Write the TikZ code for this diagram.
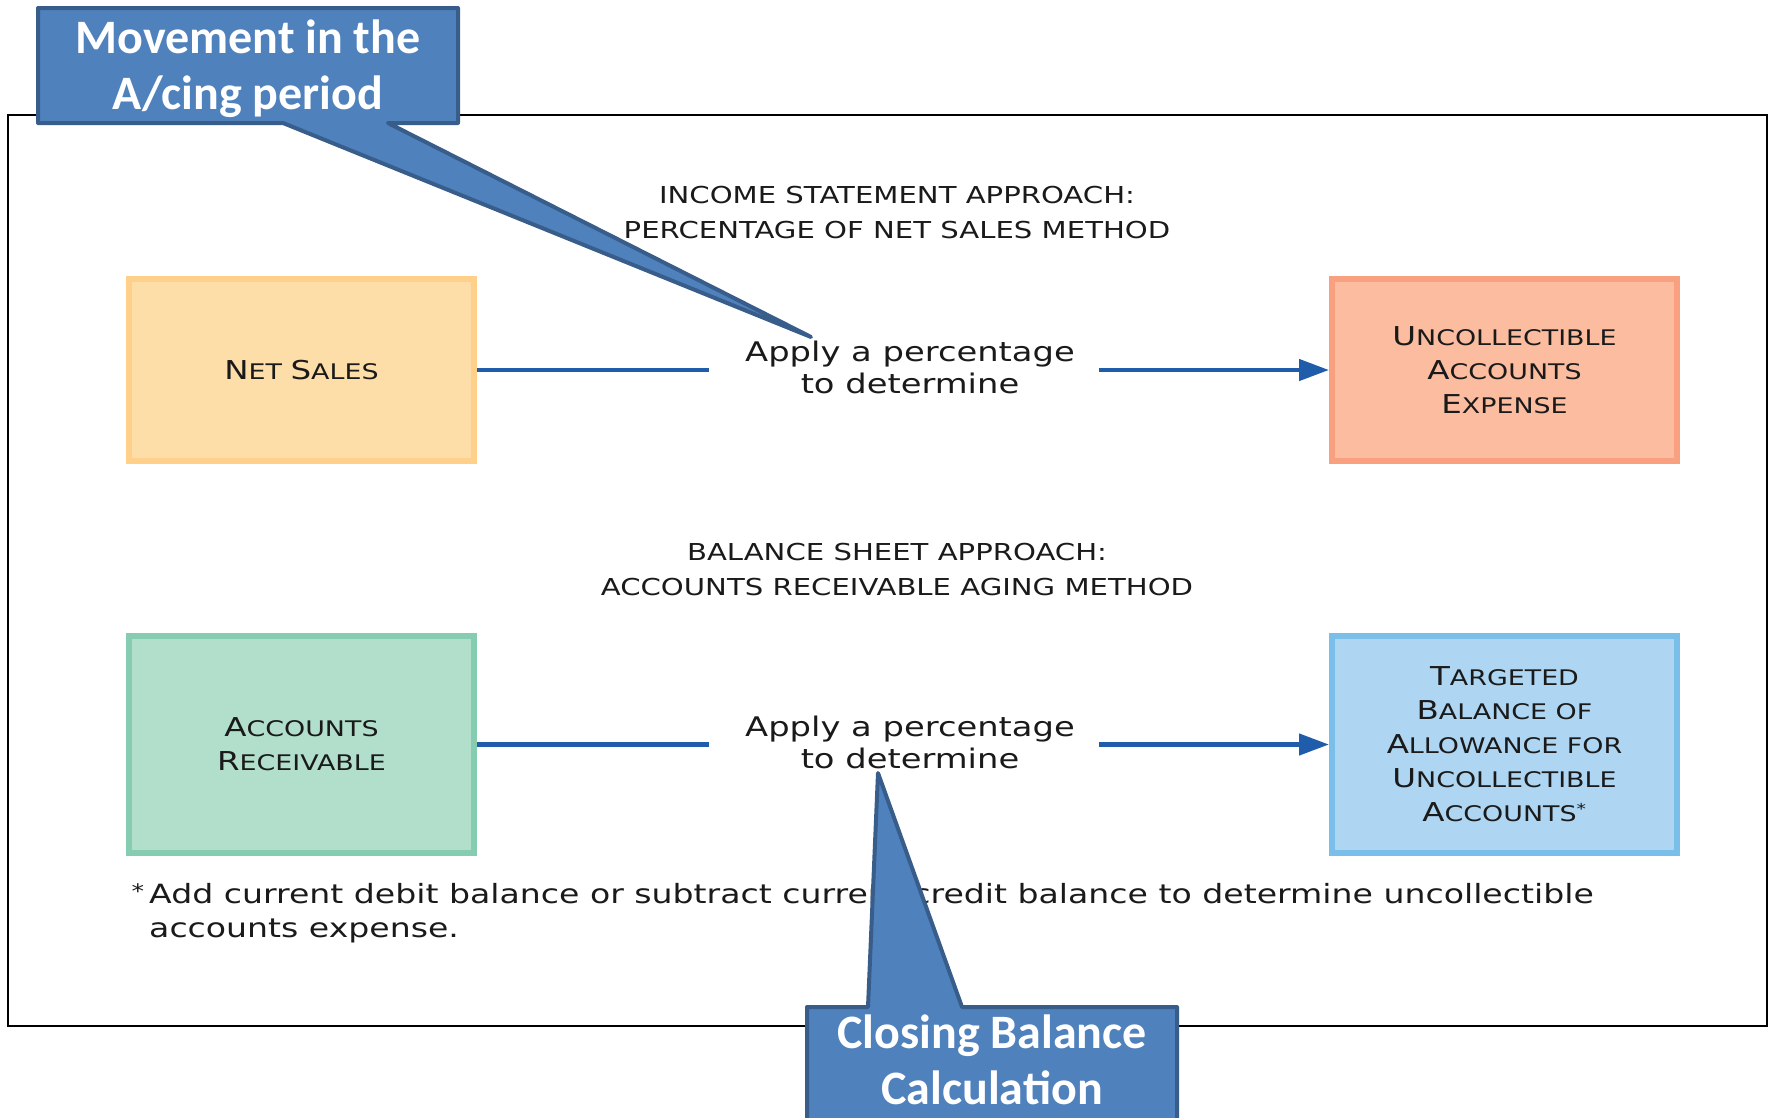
\documentclass[tikz,border=0pt]{standalone}
\usepackage{fontspec}
\setmainfont{DejaVu Sans}[FakeStretch=1.25]
\newfontfamily\callf{Carlito}
\usetikzlibrary{arrows.meta}
\definecolor{callfill}{HTML}{4F81BD}
\definecolor{calledge}{HTML}{385D8A}
\definecolor{nsfill}{HTML}{FDDDA8}
\definecolor{nsedge}{HTML}{FED08A}
\definecolor{uefill}{HTML}{FBBCA0}
\definecolor{ueedge}{HTML}{F8A080}
\definecolor{arfill}{HTML}{B2DFCB}
\definecolor{aredge}{HTML}{86CCB0}
\definecolor{tbfill}{HTML}{AED6F2}
\definecolor{tbedge}{HTML}{7ABEEA}
\definecolor{flow}{HTML}{1F5CAA}
\definecolor{ink}{HTML}{1A1A1A}
\newcommand\bigc[1]{{\fontsize{26}{34}\selectfont #1}}
\begin{document}
\begin{tikzpicture}[x=1pt,y=-1pt,
  box/.style={draw, line width=6pt, minimum width=345pt, align=center, inner sep=0pt,
    text=ink, font=\fontsize{21.5}{34}\selectfont},
  heading/.style={align=center, text=ink, font=\fontsize{23.3}{35}\selectfont, inner sep=0pt},
  apply/.style={align=center, text=ink, font=\fontsize{27}{32}\selectfont, inner sep=0pt, minimum width=378pt},
  flowline/.style={draw=flow, line width=4.5pt},
  note/.style={anchor=base west, text=ink, font=\fontsize{26.5}{30}\selectfont, inner sep=0pt},
  callout/.style={fill=callfill, draw=calledge, line width=4pt, line join=round},
  calltext/.style={align=center, text=white, font=\callf\bfseries\fontsize{48}{56}\selectfont, inner sep=0pt}
]
\useasboundingbox (0,0) rectangle (1771,1117);
\clip (0,0) rectangle (1771,1117);
% frame
\draw[line width=2pt] (8,115) rectangle (1767,1026);
% boxes
\node[box, fill=nsfill, draw=nsedge, minimum height=182pt] (ns) at (301.5,370) {\bigc{N}ET \bigc{S}ALES};
\node[box, fill=uefill, draw=ueedge, minimum height=182pt] (ue) at (1504.5,370)
  {\bigc{U}NCOLLECTIBLE\\\bigc{A}CCOUNTS\\\bigc{E}XPENSE};
\node[box, fill=arfill, draw=aredge, minimum height=217pt] (ar) at (301.5,744.5)
  {\bigc{A}CCOUNTS\\\bigc{R}ECEIVABLE};
\node[box, fill=tbfill, draw=tbedge, minimum height=217pt] (tb) at (1504.5,744.5)
  {\bigc{T}ARGETED\\\bigc{B}ALANCE OF\\\bigc{A}LLOWANCE FOR\\\bigc{U}NCOLLECTIBLE\\\bigc{A}CCOUNTS\textsuperscript{*}};
% headings
\node[heading] (h1) at (897,213) {INCOME STATEMENT APPROACH:\\PERCENTAGE OF NET SALES METHOD};
\node[heading] (h2) at (897,570) {BALANCE SHEET APPROACH:\\ACCOUNTS RECEIVABLE AGING METHOD};
% apply texts
\node[apply] (ap1) at (910,367) {Apply a percentage\\to determine};
\node[apply] (ap2) at (910,742) {Apply a percentage\\to determine};
% connectors
\draw[flowline] (ns.east) -- ([xshift=-12pt]ns.east -| ap1.west);
\draw[flowline, -{Triangle[length=30pt,width=21pt]}] (ue.west -| ap1.east) -- (ue.west);
\draw[flowline] (ar.east) -- ([xshift=-12pt]ar.east -| ap2.west);
\draw[flowline, -{Triangle[length=30pt,width=21pt]}] (tb.west -| ap2.east) -- (tb.west);
% footnote
\node[note] (fn1) at (149,903) {\makebox[0pt][r]{\raisebox{5pt}{\fontsize{20}{20}\selectfont *}\hspace{5pt}}Add current debit balance or subtract current credit balance to determine uncollectible};
\node[note] (fn2) at (149,937) {accounts expense.};
% callout 1
\coordinate (tip1) at (811,337);
\path[callout] (38,8) -- (458,8) -- (458,123) -- (388,123) -- (tip1) -- (283,123) -- (38,123) -- cycle;
\node[calltext] (c1) at (248,69) {Movement in the\\A/cing period};
% callout 2
\coordinate (tip2) at (878,773);
\path[callout] (807,1007) -- (868,1007) -- (tip2) -- (962,1007) -- (1177,1007) -- (1177,1140) -- (807,1140) -- cycle;
\node[calltext] (c2) at (992,1060) {Closing Balance\\Calculation};
\end{tikzpicture}
\end{document}
